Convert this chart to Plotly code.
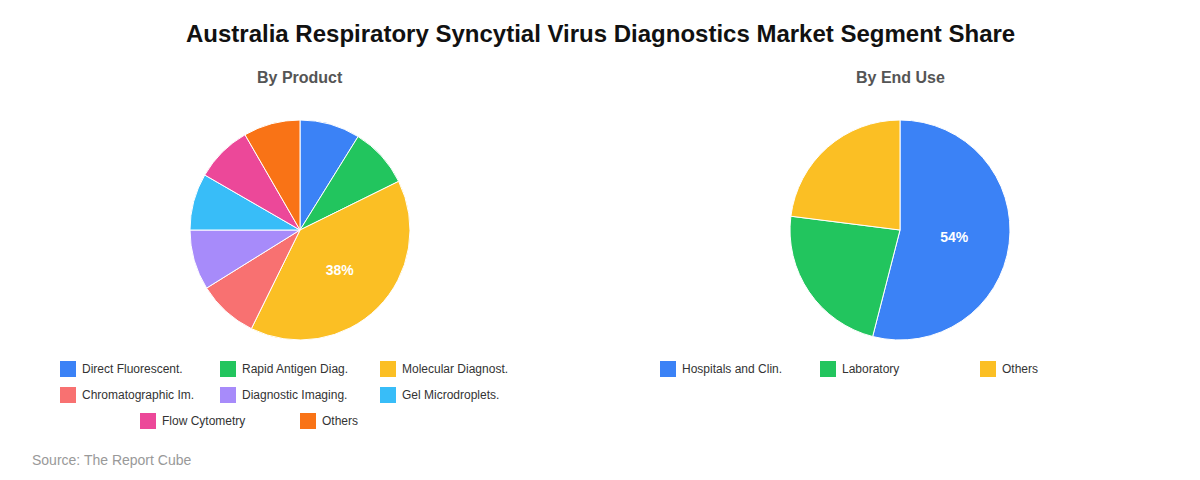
import plotly.graph_objects as go

W, H = 1200, 480
OFF = 8  # page body margin

product_labels = ["Direct Fluorescent.", "Rapid Antigen Diag.", "Molecular Diagnost.",
                  "Chromatographic Im.", "Diagnostic Imaging.", "Gel Microdroplets.",
                  "Flow Cytometry", "Others"]
product_values = [8.5, 8.5, 38, 8.5, 8.5, 8, 8, 8]
product_colors = ["#3B82F6", "#22C55E", "#FBBF24", "#F87171",
                  "#A78BFA", "#38BDF8", "#EC4899", "#F97316"]

enduse_labels = ["Hospitals and Clin.", "Laboratory", "Others"]
enduse_values = [54, 23, 23]
enduse_colors = ["#3B82F6", "#22C55E", "#FBBF24"]


def px(x):
    return (x - OFF) / W


def py(y):
    return 1 - (y - OFF) / H


def pie_text(vals):
    # only the largest slice carries a label
    m = max(vals)
    return ["<b>%d%%</b>" % round(v) if v == m else "" for v in vals]


fig = go.Figure()
fig.add_trace(go.Pie(
    labels=product_labels, values=product_values, sort=False, direction="clockwise",
    rotation=0, marker=dict(colors=product_colors, line=dict(color="white", width=1)),
    text=pie_text(product_values), textinfo="text", textposition="inside",
    insidetextfont=dict(color="white", size=14),
    domain=dict(x=[px(190), px(410)], y=[py(340), py(120)]), showlegend=False))
fig.add_trace(go.Pie(
    labels=enduse_labels, values=enduse_values, sort=False, direction="clockwise",
    rotation=0, marker=dict(colors=enduse_colors, line=dict(color="white", width=1)),
    text=pie_text(enduse_values), textinfo="text", textposition="inside",
    insidetextfont=dict(color="white", size=14),
    domain=dict(x=[px(790), px(1010)], y=[py(340), py(120)]), showlegend=False))

shapes, annotations = [], []


def legend(items, colors, positions):
    for lab, col, (x, y) in zip(items, colors, positions):
        shapes.append(dict(type="rect", xref="paper", yref="paper",
                           x0=px(x), x1=px(x + 16), y0=py(y + 8), y1=py(y - 8),
                           fillcolor=col, line=dict(width=0)))
        annotations.append(dict(text=lab, x=px(x + 20), y=py(y), xref="paper", yref="paper",
                                xanchor="left", yanchor="middle", showarrow=False,
                                font=dict(size=12, color="#333")))


legend(product_labels, product_colors,
       [(60, 369), (220, 369), (380, 369), (60, 395), (220, 395), (380, 395), (140, 421), (300, 421)])
legend(enduse_labels, enduse_colors, [(660, 369), (820, 369), (980, 369)])

annotations += [
    dict(text="<b>Australia Respiratory Syncytial Virus Diagnostics Market Segment Share</b>",
         x=px(600), y=py(33), font=dict(size=24, color="#111")),
    dict(text="<b>By Product</b>", x=px(300), y=py(77), font=dict(size=16, color="#555")),
    dict(text="<b>By End Use</b>", x=px(900), y=py(77), font=dict(size=16, color="#555")),
    dict(text="Source: The Report Cube", x=px(30), y=py(460), xanchor="left",
         font=dict(size=14, color="#999")),
]
for a in annotations[-4:]:
    a.update(xref="paper", yref="paper", showarrow=False, yanchor="middle")
    a.setdefault("xanchor", "center")

fig.update_layout(width=W, height=H, margin=dict(l=0, r=0, t=0, b=0),
                  paper_bgcolor="white", font=dict(family="Arial, Liberation Sans"),
                  shapes=shapes, annotations=annotations)
fig.write_html("out.html")
